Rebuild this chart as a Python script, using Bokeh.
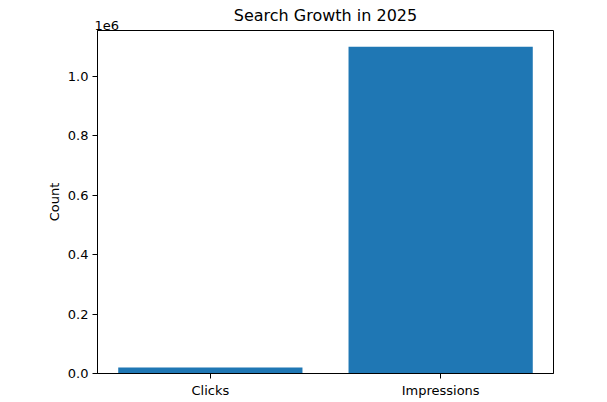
from bokeh.plotting import figure
from bokeh.models import FixedTicker, Title, Range1d
from bokeh.embed import file_html
from bokeh.resources import INLINE

categories = ["Clicks", "Impressions"]
counts = [20000, 1100000]
y_ticks = [0, 200000, 400000, 600000, 800000, 1000000]
y_tick_labels = ["0.0", "0.2", "0.4", "0.6", "0.8", "1.0"]
title_text = "Search Growth in 2025"
y_label = "Count"
exponent_text = "1e6"

xs = list(range(len(categories)))
x_lo, x_hi = -0.49, 1.49
y_top = 1155000

p = figure(width=599, height=400, output_backend="svg", toolbar_location=None,
           x_range=Range1d(x_lo, x_hi), y_range=Range1d(0, y_top),
           min_border_left=97, min_border_right=46, min_border_top=30, min_border_bottom=27)

p.vbar(x=xs, top=counts, width=0.8, color="#1f77b4", line_color=None)

p.title.text = title_text
p.title.align = "center"
p.title.text_font = "DejaVu Sans"
p.title.text_font_size = "16px"
p.title.text_font_style = "normal"
p.title.text_color = "black"
p.title.standoff = -12

p.add_layout(Title(text=exponent_text, align="left", text_font="DejaVu Sans",
                   text_font_size="13px", text_font_style="normal", text_color="black",
                   standoff=1, offset=-3), "above")

p.xgrid.visible = False
p.ygrid.visible = False
p.outline_line_color = "black"
p.outline_line_width = 1
p.outline_line_alpha = 1

xa = p.xaxis[0]
xa.ticker = FixedTicker(ticks=xs)
xa.major_label_overrides = {i: c for i, c in zip(xs, categories)}
ya = p.yaxis[0]
ya.ticker = FixedTicker(ticks=y_ticks)
ya.major_label_overrides = {t: l for t, l in zip(y_ticks, y_tick_labels)}
ya.axis_label = y_label
ya.axis_label_text_font_style = "normal"

for ax in (xa, ya):
    ax.minor_tick_line_color = None
    ax.major_tick_out = 5
    ax.major_tick_in = 0
    ax.major_label_text_font = "DejaVu Sans"
    ax.major_label_text_font_size = "13px"
    ax.major_label_text_color = "black"
    ax.axis_label_text_font = "DejaVu Sans"
    ax.axis_label_text_font_size = "13px"
    ax.axis_label_text_color = "black"
    ax.axis_line_color = "black"
    ax.major_tick_line_color = "black"
    ax.major_label_standoff = 4

ya.axis_label_standoff = 3

open("out.html", "w").write(file_html(p, INLINE))
